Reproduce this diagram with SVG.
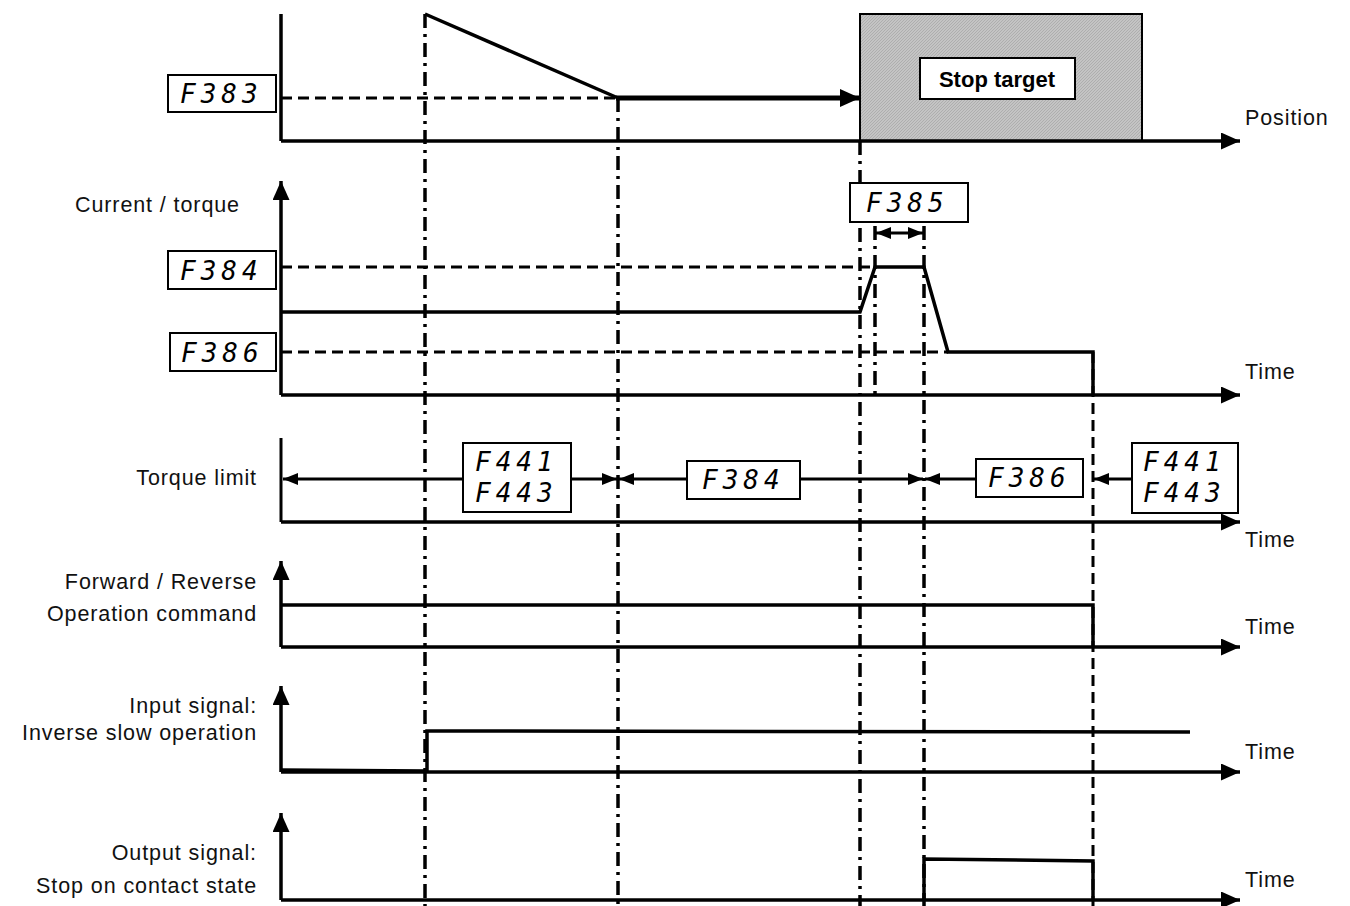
<svg xmlns="http://www.w3.org/2000/svg" width="1350" height="906" viewBox="0 0 1350 906">
<style>
.ax{stroke:#000;stroke-width:3.5;fill:none}
.sig{stroke:#000;stroke-width:3.5;fill:none;stroke-linejoin:miter}
.dash{stroke:#000;stroke-width:3;fill:none;stroke-dasharray:11 6}
.dd{stroke:#000;stroke-width:3.5;fill:none;stroke-dasharray:14 6 3 6}
.box{fill:#fff;stroke:#000;stroke-width:2}
.lbl{font-family:"Liberation Sans",Arial,sans-serif;font-size:21.5px;letter-spacing:0.9px;fill:#111}
.seg{font-family:"DejaVu Sans Mono","Liberation Mono",monospace;font-style:italic;font-size:26px;fill:#000;letter-spacing:5px}
.thin{stroke:#000;stroke-width:3;fill:none}
</style>
<defs>
<marker id="ah" viewBox="0 0 10 10" refX="10" refY="5" markerWidth="19" markerHeight="17" markerUnits="userSpaceOnUse" orient="auto" preserveAspectRatio="none"><path d="M0,0L10,5L0,10z" fill="#000"/></marker>
<marker id="bh" viewBox="0 0 10 10" refX="10" refY="5" markerWidth="20" markerHeight="18" markerUnits="userSpaceOnUse" orient="auto" preserveAspectRatio="none"><path d="M0,0L10,5L0,10z" fill="#000"/></marker>
<marker id="sh" viewBox="0 0 10 10" refX="10" refY="5" markerWidth="15" markerHeight="12" markerUnits="userSpaceOnUse" orient="auto-start-reverse" preserveAspectRatio="none"><path d="M0,0L10,5L0,10z" fill="#000"/></marker>
<pattern id="hatch" width="3" height="3" patternUnits="userSpaceOnUse"><rect width="3" height="3" fill="#c4c4c4"/><path d="M0,3L3,0" stroke="#a8a8a8" stroke-width="0.8"/></pattern>
</defs>

<g id="stop-target">
<rect x="860" y="14" width="282" height="127" fill="url(#hatch)" stroke="#000" stroke-width="2"/>
<rect x="920" y="58" width="155" height="41" class="box"/>
<text x="997" y="87" text-anchor="middle" style="font-family:'Liberation Sans',Arial,sans-serif;font-size:22px;font-weight:bold">Stop target</text>
</g>

<g id="connectors">
<line x1="425" y1="14" x2="425" y2="906" class="dd"/>
<line x1="618" y1="98" x2="618" y2="906" class="dd"/>
<line x1="860" y1="141" x2="860" y2="906" class="dd"/>
<line x1="875" y1="226" x2="875" y2="395" class="dd"/>
<line x1="924" y1="226" x2="924" y2="906" class="dd"/>
<line x1="1093" y1="352" x2="1093" y2="906" class="dash"/>

<line x1="281" y1="14" x2="281" y2="141" class="ax"/>
<line x1="281" y1="141" x2="1240" y2="141" class="ax" marker-end="url(#ah)"/>
<line x1="281" y1="98" x2="618" y2="98" class="dash"/>
<line x1="425" y1="14" x2="618" y2="98" class="sig"/>
<line x1="616" y1="98" x2="860" y2="98" stroke="#000" stroke-width="5" marker-end="url(#bh)"/>

<line x1="281" y1="395" x2="281" y2="181" class="ax" marker-end="url(#ah)"/>
<line x1="281" y1="395" x2="1240" y2="395" class="ax" marker-end="url(#ah)"/>
<line x1="281" y1="267" x2="875" y2="267" class="dash"/>
<line x1="281" y1="352" x2="948" y2="352" class="dash"/>
<polyline points="281,312 860,312 875,267 924,267 948,352 1093,352 1093,395" class="sig"/>
<line x1="876" y1="233" x2="923" y2="233" class="thin" marker-start="url(#sh)" marker-end="url(#sh)"/>

<line x1="281" y1="438" x2="281" y2="522" class="thin"/>
<line x1="281" y1="522" x2="1240" y2="522" class="ax" marker-end="url(#ah)"/>
<line x1="463" y1="479" x2="283" y2="479" class="thin" marker-end="url(#sh)"/>
<line x1="571" y1="479" x2="617" y2="479" class="thin" marker-end="url(#sh)"/>
<line x1="687" y1="479" x2="619" y2="479" class="thin" marker-end="url(#sh)"/>
<line x1="800" y1="479" x2="923" y2="479" class="thin" marker-end="url(#sh)"/>
<line x1="976" y1="479" x2="925" y2="479" class="thin" marker-end="url(#sh)"/>
<line x1="1132" y1="479" x2="1094" y2="479" class="thin" marker-end="url(#sh)"/>

<line x1="281" y1="647" x2="281" y2="561" class="ax" marker-end="url(#ah)"/>
<line x1="281" y1="647" x2="1240" y2="647" class="ax" marker-end="url(#ah)"/>
<polyline points="281,605 1093,605 1093,647" class="sig"/>

<line x1="281" y1="772" x2="281" y2="686" class="ax" marker-end="url(#ah)"/>
<line x1="281" y1="772" x2="1240" y2="772" class="ax" marker-end="url(#ah)"/>
<polyline points="281,770 427,771 427,731 1190,732" class="sig"/>

<line x1="281" y1="900" x2="281" y2="813" class="ax" marker-end="url(#ah)"/>
<line x1="281" y1="900" x2="1240" y2="900" class="ax" marker-end="url(#ah)"/>
<polyline points="924,900 924,859 1093,861 1093,900" class="sig"/>
</g>

<g id="f383"><rect x="168" y="75" width="108" height="37" class="box"/><text x="180" y="103" class="seg">F383</text></g>
<g id="f384-axis"><rect x="168" y="251" width="108" height="38" class="box"/><text x="180" y="280" class="seg">F384</text></g>
<g id="f386-axis"><rect x="170" y="333" width="106" height="38" class="box"/><text x="181" y="362" class="seg">F386</text></g>
<g id="f385"><rect x="850" y="183" width="118" height="39" class="box"/><text x="866" y="212" class="seg">F385</text></g>
<g id="f441-a"><rect x="463" y="443" width="108" height="69" class="box"/><text x="475" y="471" class="seg">F441</text><text x="475" y="502" class="seg">F443</text></g>
<g id="f384-limit"><rect x="687" y="461" width="113" height="38" class="box"/><text x="702" y="489" class="seg">F384</text></g>
<g id="f386-limit"><rect x="976" y="459" width="107" height="38" class="box"/><text x="988" y="487" class="seg">F386</text></g>
<g id="f441-b"><rect x="1132" y="443" width="106" height="70" class="box"/><text x="1143" y="471" class="seg">F441</text><text x="1143" y="502" class="seg">F443</text></g>

<g id="labels">
<text x="1245" y="125" class="lbl">Position</text>
<text x="75" y="212" class="lbl">Current  / torque</text>
<text x="1245" y="379" class="lbl">Time</text>
<text x="257" y="485" class="lbl" text-anchor="end">Torque limit</text>
<text x="1245" y="547" class="lbl">Time</text>
<text x="257" y="589" class="lbl" text-anchor="end">Forward / Reverse</text>
<text x="257" y="621" class="lbl" text-anchor="end">Operation command</text>
<text x="1245" y="634" class="lbl">Time</text>
<text x="257" y="713" class="lbl" text-anchor="end">Input signal:</text>
<text x="257" y="740" class="lbl" text-anchor="end">Inverse slow operation</text>
<text x="1245" y="759" class="lbl">Time</text>
<text x="257" y="860" class="lbl" text-anchor="end">Output signal:</text>
<text x="257" y="893" class="lbl" text-anchor="end">Stop on contact state</text>
<text x="1245" y="887" class="lbl">Time</text>
</g>
</svg>
